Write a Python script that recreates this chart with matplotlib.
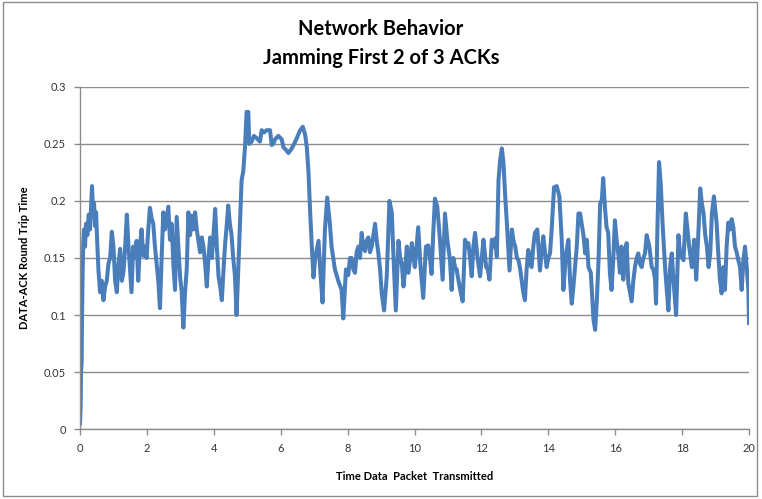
# network behavior plot - jamming first 2 of 3 ACKs
# round trip time

import numpy as np
import matplotlib
matplotlib.use("Agg")
import matplotlib.pyplot as plt
from matplotlib.ticker import FormatStrFormatter, MultipleLocator
from matplotlib.patches import Rectangle

# time (x) and round trip time (y)
time_sent = [
    0.00, 0.02, 0.03, 0.05, 0.06, 0.08, 0.10, 0.12, 0.15, 0.18, 0.22, 0.26, 0.30, 0.33, 0.36, 0.39,
    0.42, 0.45, 0.48, 0.52, 0.55, 0.60, 0.65, 0.70, 0.75, 0.80, 0.85, 0.90, 0.95, 1.00, 1.05, 1.10,
    1.15, 1.20, 1.25, 1.30, 1.35, 1.40, 1.45, 1.54, 1.59, 1.64, 1.69, 1.74, 1.79, 1.84, 1.89, 1.94,
    1.99, 2.04, 2.09, 2.14, 2.19, 2.24, 2.29, 2.34, 2.39, 2.44, 2.49, 2.54, 2.59, 2.64, 2.69, 2.74,
    2.79, 2.84, 2.89, 2.94, 2.99, 3.04, 3.09, 3.14, 3.19, 3.24, 3.29, 3.34, 3.39, 3.44, 3.49, 3.54,
    3.59, 3.64, 3.69, 3.74, 3.79, 3.84, 3.89, 3.94, 3.99, 4.04, 4.09, 4.14, 4.19, 4.24, 4.29, 4.34,
    4.39, 4.43, 4.48, 4.53, 4.58, 4.63, 4.68, 4.73, 4.78, 4.83, 4.88, 4.93, 4.98,
    5.03, 5.06, 5.13, 5.20, 5.28, 5.38, 5.43, 5.50, 5.58, 5.68, 5.73, 5.78, 5.83, 5.93, 6.03, 6.08,
    6.15, 6.23, 6.33, 6.40, 6.48, 6.58, 6.66, 6.73, 6.78, 6.83, 6.88, 6.93, 6.98, 7.03, 7.13, 7.18,
    7.25, 7.32, 7.39, 7.47, 7.52, 7.57, 7.62, 7.72, 7.82, 7.87, 7.95, 8.02, 8.07, 8.12, 8.17, 8.22,
    8.27, 8.32, 8.37, 8.42, 8.47, 8.52, 8.57, 8.62, 8.67, 8.72, 8.77, 8.82, 8.87, 8.92, 8.97, 9.02,
    9.09, 9.17, 9.25, 9.32, 9.37, 9.44, 9.52, 9.57, 9.62,
    9.67, 9.72, 9.77, 9.82, 9.87, 9.92, 9.97, 10.01, 10.06, 10.11, 10.18, 10.26, 10.34, 10.41, 10.46,
    10.51, 10.56, 10.61, 10.68, 10.72, 10.76, 10.84, 10.91, 10.98, 11.06, 11.11, 11.16, 11.21, 11.26,
    11.31, 11.38, 11.44, 11.51, 11.56, 11.61, 11.66, 11.71, 11.76, 11.81, 11.88, 11.96, 12.01, 12.06,
    12.10, 12.14, 12.19, 12.24, 12.31, 12.36, 12.41, 12.46, 12.51, 12.56, 12.61, 12.66, 12.71, 12.76,
    12.84, 12.91, 12.96, 13.01, 13.06, 13.11, 13.16, 13.20, 13.25, 13.30, 13.35, 13.40, 13.45, 13.50,
    13.55, 13.60, 13.67, 13.75, 13.80, 13.85, 13.90, 13.95, 14.00, 14.05, 14.10, 14.17, 14.25, 14.33,
    14.40, 14.45, 14.53, 14.60, 14.65, 14.70, 14.75, 14.80, 14.85, 14.90,
    14.95, 15.05, 15.10, 15.15, 15.20, 15.27, 15.35, 15.40, 15.45, 15.50, 15.55, 15.60, 15.64, 15.69,
    15.74, 15.79, 15.84, 15.89, 15.94, 15.99, 16.04, 16.09, 16.14, 16.19, 16.24, 16.29, 16.34, 16.39,
    16.44, 16.49, 16.54, 16.59, 16.64, 16.69, 16.74, 16.79, 16.84, 16.89, 16.94, 17.02, 17.09, 17.14,
    17.19, 17.22, 17.26, 17.31, 17.36, 17.42, 17.49, 17.54, 17.59, 17.64, 17.69, 17.74, 17.82, 17.89,
    17.94, 18.00, 18.04, 18.11, 18.16, 18.21, 18.29, 18.36, 18.42, 18.49, 18.54, 18.59, 18.64, 18.69,
    18.74, 18.79, 18.84, 18.89, 18.95, 19.03, 19.08, 19.13, 19.18, 19.23, 19.28, 19.33, 19.38, 19.43,
    19.48, 19.53, 19.58, 19.63, 19.68, 19.73, 19.78, 19.83, 19.88, 19.93, 19.98, 20.00,
]
rtt = [
    0.005, 0.02, 0.05, 0.06, 0.10, 0.14, 0.165, 0.175, 0.16, 0.18, 0.17, 0.188, 0.175, 0.195, 0.213, 0.19,
    0.198, 0.178, 0.19, 0.16, 0.14, 0.12, 0.13, 0.113, 0.125, 0.13, 0.145, 0.15, 0.173, 0.16, 0.13, 0.12,
    0.145, 0.158, 0.13, 0.138, 0.16, 0.188, 0.16, 0.12, 0.16, 0.15, 0.165, 0.13, 0.16, 0.175, 0.152, 0.16,
    0.15, 0.175, 0.194, 0.185, 0.18, 0.16, 0.145, 0.13, 0.106, 0.15, 0.19, 0.175, 0.185, 0.195, 0.166, 0.18,
    0.145, 0.122, 0.186, 0.16, 0.134, 0.12, 0.089, 0.12, 0.14, 0.19, 0.17, 0.187, 0.175, 0.19, 0.175, 0.165,
    0.155, 0.168, 0.16, 0.145, 0.125, 0.15, 0.168, 0.15, 0.17, 0.193, 0.16, 0.134, 0.125, 0.113, 0.14, 0.163,
    0.18, 0.196, 0.18, 0.17, 0.15, 0.135, 0.10, 0.14, 0.18, 0.218, 0.226, 0.246, 0.278,
    0.278, 0.25, 0.252, 0.257, 0.255, 0.252, 0.262, 0.26, 0.262, 0.262, 0.249, 0.25, 0.254, 0.257, 0.254, 0.247,
    0.245, 0.242, 0.246, 0.25, 0.255, 0.262, 0.265, 0.258, 0.247, 0.225, 0.19, 0.16, 0.133, 0.15, 0.165, 0.14,
    0.111, 0.174, 0.203, 0.18, 0.16, 0.15, 0.14, 0.13, 0.122, 0.097, 0.14, 0.135, 0.15, 0.15, 0.14, 0.137,
    0.155, 0.16, 0.15, 0.172, 0.16, 0.156, 0.165, 0.168, 0.155, 0.16, 0.17, 0.18, 0.165, 0.154, 0.14, 0.119,
    0.104, 0.134, 0.2, 0.19, 0.152, 0.104, 0.165, 0.15, 0.145,
    0.125, 0.14, 0.16, 0.137, 0.15, 0.163, 0.15, 0.142, 0.16, 0.177, 0.142, 0.115, 0.16, 0.161, 0.15,
    0.136, 0.172, 0.202, 0.195, 0.18, 0.166, 0.131, 0.189, 0.166, 0.148, 0.122, 0.15, 0.142, 0.14,
    0.131, 0.12, 0.112, 0.166, 0.16, 0.163, 0.15, 0.134, 0.16, 0.172, 0.151, 0.134, 0.15, 0.166,
    0.155, 0.142, 0.14, 0.131, 0.166, 0.16, 0.167, 0.151, 0.218, 0.236, 0.246, 0.233, 0.204, 0.181,
    0.139, 0.175, 0.165, 0.16, 0.15, 0.148, 0.14, 0.131, 0.12, 0.113, 0.14, 0.157, 0.145, 0.142,
    0.16, 0.172, 0.175, 0.139, 0.155, 0.169, 0.155, 0.142, 0.15, 0.154, 0.175, 0.212, 0.213, 0.204,
    0.166, 0.122, 0.154, 0.166, 0.13, 0.110, 0.125, 0.142, 0.16, 0.189,
    0.189, 0.17, 0.154, 0.166, 0.142, 0.137, 0.096, 0.087, 0.113, 0.148, 0.198, 0.201, 0.22, 0.195,
    0.177, 0.172, 0.137, 0.122, 0.148, 0.183, 0.166, 0.154, 0.137, 0.16, 0.131, 0.15, 0.163, 0.128,
    0.12, 0.112, 0.13, 0.142, 0.15, 0.154, 0.145, 0.142, 0.15, 0.154, 0.17, 0.16, 0.142, 0.14,
    0.131, 0.11, 0.175, 0.234, 0.215, 0.177, 0.142, 0.122, 0.104, 0.142, 0.154, 0.131, 0.100, 0.17,
    0.154, 0.15, 0.148, 0.189, 0.175, 0.16, 0.142, 0.166, 0.131, 0.175, 0.211, 0.198, 0.189, 0.17,
    0.16, 0.142, 0.154, 0.189, 0.204, 0.181, 0.154, 0.131, 0.119, 0.142, 0.122, 0.16, 0.181, 0.175,
    0.184, 0.177, 0.16, 0.155, 0.148, 0.142, 0.122, 0.148, 0.16, 0.142, 0.122, 0.093,
]

x_ticks = [0, 2, 4, 6, 8, 10, 12, 14, 16, 18, 20]

plt.rcParams['font.family'] = ['Lato', 'DejaVu Sans']

fig = plt.figure(figsize=(7.62, 4.99), dpi=100)
ax = fig.add_axes([0.105, 0.140, 0.878, 0.686])

ax.plot(time_sent, rtt, color='#4A7EBB', linewidth=2.9, solid_joinstyle='round')

ax.set_xlim(0, 20)
ax.set_ylim(0, 0.3)
ax.set_xticks(x_ticks)
ax.yaxis.set_major_locator(MultipleLocator(0.05))
ax.yaxis.set_major_formatter(FormatStrFormatter('%g'))

# excel style: horizontal gridlines only, gray left/bottom axes
ax.grid(axis='y', color='#8C8C8C', linewidth=1.0)
ax.set_axisbelow(True)
for side in ['top', 'right']:
    ax.spines[side].set_visible(False)
for side in ['left', 'bottom']:
    ax.spines[side].set_color('#8C8C8C')
    ax.spines[side].set_linewidth(1.0)
ax.tick_params(axis='both', direction='out', length=4, width=1, color='#8C8C8C',
               labelsize=8, labelcolor='#333333', pad=6)

ax.set_xlabel('Time Data  Packet  Transmitted', fontsize=8, fontweight='bold', labelpad=12)
ax.set_ylabel('DATA-ACK Round Trip Time', fontsize=8, fontweight='bold', labelpad=10)

fig.text(0.5, 0.942, 'Network Behavior', ha='center', va='center', fontsize=14.5, fontweight='bold')
fig.text(0.5, 0.884, 'Jamming First 2 of 3 ACKs', ha='center', va='center', fontsize=14.5, fontweight='bold')

# thin border around the chart area
fig.patches.append(Rectangle((0.004, 0.006), 0.99, 0.99, transform=fig.transFigure,
                             fill=False, edgecolor='#8C8C8C', linewidth=1.0))

fig.savefig('out.png', dpi=100)
